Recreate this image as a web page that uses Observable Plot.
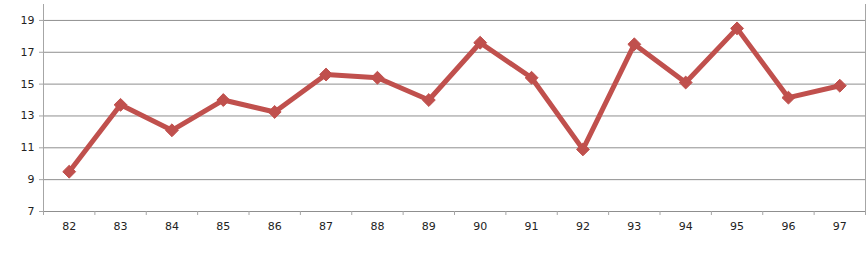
<!DOCTYPE html>
<html>
<head>
<meta charset="utf-8">
<script src="https://cdn.jsdelivr.net/npm/d3@7"></script>
<script src="https://cdn.jsdelivr.net/npm/@observablehq/plot@0.6"></script>
<style>
  html, body { margin: 0; padding: 0; background: #fff; }
</style>
</head>
<body>
<div id="chart"></div>
<script>
const years = [82, 83, 84, 85, 86, 87, 88, 89, 90, 91, 92, 93, 94, 95, 96, 97];
const values = [9.5, 13.7, 12.1, 14.0, 13.25, 15.6, 15.4, 14.0, 17.6, 15.4, 10.9, 17.5, 15.1, 18.5, 14.15, 14.9];
const yTicks = [7, 9, 11, 13, 15, 17, 19];
const xTickLabels = years;
const xBoundaries = [81.5, 82.5, 83.5, 84.5, 85.5, 86.5, 87.5, 88.5, 89.5, 90.5, 91.5, 92.5, 93.5, 94.5, 95.5, 96.5, 97.5];

const data = years.map((y, i) => ({year: y, value: values[i]}));

const color = "#C0504D";

const chart = Plot.plot({
  width: 867,
  height: 253,
  marginLeft: 43,
  marginRight: 2,
  marginTop: 4,
  marginBottom: 42,
  style: {fontFamily: "DejaVu Sans", fontSize: "11px", color: "#222", background: "#fff"},
  x: {domain: [81.5, 97.5], label: null},
  y: {domain: [7, 20], label: null},
  marks: [
    Plot.ruleY(yTicks, {stroke: "#8f8f8f", strokeWidth: 1, strokeOpacity: 1}),
    Plot.frame({anchor: "left", stroke: "#a6a6a6", strokeOpacity: 1}),
    Plot.frame({anchor: "right", stroke: "#a6a6a6", strokeOpacity: 1}),
    Plot.axisY({ticks: yTicks, tickSize: 4, tickPadding: 5, stroke: "#a6a6a6", tickFormat: d => String(d), fill: "#222", label: null}),
    Plot.axisX({ticks: xBoundaries, tickSize: 4, tickFormat: () => "", stroke: "#a6a6a6", label: null}),
    Plot.axisX({ticks: xTickLabels, tickSize: 0, tickPadding: 11, tickFormat: d => String(d), fill: "#222", label: null}),
    Plot.line(data, {x: "year", y: "value", stroke: color, strokeWidth: 5, strokeLinejoin: "round"}),
    Plot.dot(data, {x: "year", y: "value", symbol: "diamond2", r: 5.8, fill: color, stroke: color, strokeWidth: 1})
  ]
});

document.getElementById("chart").appendChild(chart);
</script>
</body>
</html>
